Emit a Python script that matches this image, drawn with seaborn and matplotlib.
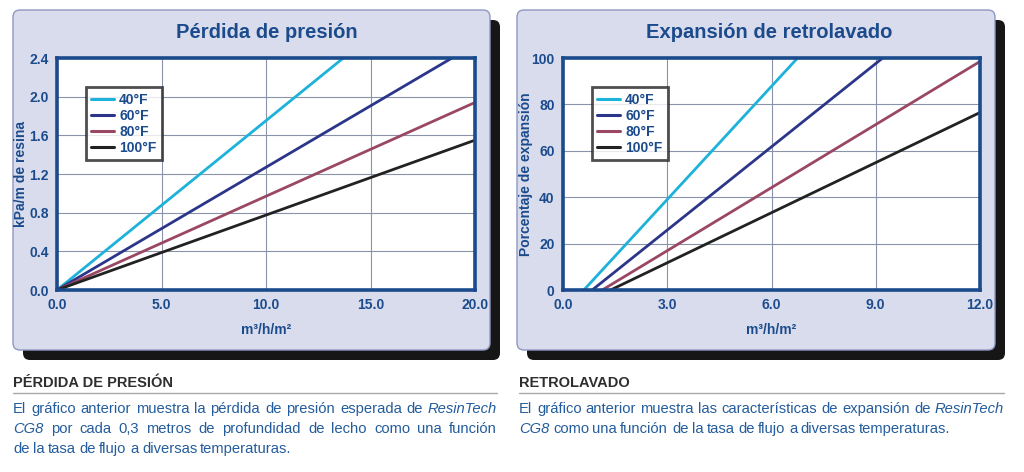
import numpy as np
import pandas as pd
import seaborn as sns
import matplotlib.pyplot as plt
from matplotlib.patches import FancyBboxPatch

# ---- data ----
temps = ['40°F', '60°F', '80°F', '100°F']
colors = ['#1cb2d9', '#2b3589', '#9a4763', '#222222']

# pressure drop (kPa/m de resina) vs flow (m3/h/m2)
loss_flow = {'40°F': [0.0, 13.7], '60°F': [0.0, 18.9], '80°F': [0.0, 20.0], '100°F': [0.0, 20.0]}
loss_val = {'40°F': [0.0, 2.4], '60°F': [0.0, 2.4], '80°F': [0.0, 1.94], '100°F': [0.0, 1.55]}

# bed expansion (%) vs flow (m3/h/m2)
exp_flow = {'40°F': [0.6, 6.75], '60°F': [0.84, 9.2], '80°F': [1.13, 12.0], '100°F': [1.37, 12.0]}
exp_val = {'40°F': [0, 100], '60°F': [0, 100], '80°F': [0, 98.5], '100°F': [0, 76.5]}

loss_xticks = [0, 5, 10, 15, 20]
loss_yticks = [0, 0.4, 0.8, 1.2, 1.6, 2.0, 2.4]
exp_xticks = [0, 3, 6, 9, 12]
exp_yticks = [0, 20, 40, 60, 80, 100]

sns.set_theme(style='white')
plt.rcParams['font.family'] = ['Liberation Sans', 'DejaVu Sans']

BLUE = '#1b4b8c'
TXT = '#235c9c'
W, H = 1024, 472
fig = plt.figure(figsize=(W / 100, H / 100), dpi=100)
fig.patch.set_facecolor('white')

# background axes in pixel coordinates
bg = fig.add_axes([0, 0, 1, 1])
bg.set_xlim(0, W)
bg.set_ylim(H, 0)
bg.axis('off')


def panel(x0, x1, y0, y1):
    sh = FancyBboxPatch((x0 + 10, y0 + 10), x1 - x0, y1 - y0,
                        boxstyle='round,pad=0,rounding_size=7',
                        fc='#161616', ec='none', zorder=1)
    bx = FancyBboxPatch((x0, y0), x1 - x0, y1 - y0,
                        boxstyle='round,pad=0,rounding_size=7',
                        fc='#d9dcec', ec='#8e98c4', lw=1.0, zorder=2)
    bg.add_patch(sh)
    bg.add_patch(bx)


def pix_axes(l, r, t, b):
    return fig.add_axes([l / W, 1 - b / H, (r - l) / W, (b - t) / H])


def chart(ax, flows, vals, xticks, yticks, xfmt, yfmt, title, ylabel, tx, ylx):
    rows = []
    for t in temps:
        for f, v in zip(flows[t], vals[t]):
            rows.append({'flow': f, 'val': v, 'temp': t})
    df = pd.DataFrame(rows)
    sns.lineplot(data=df, x='flow', y='val', hue='temp', hue_order=temps,
                 palette=colors, linewidth=2.0, ax=ax, legend=True)
    ax.set_facecolor('white')
    ax.set_xlim(xticks[0], xticks[-1])
    ax.set_ylim(yticks[0], yticks[-1])
    ax.set_xticks(xticks)
    ax.set_yticks(yticks)
    ax.set_xticklabels([xfmt.format(v) for v in xticks])
    ax.set_yticklabels([yfmt.format(v) for v in yticks])
    ax.grid(True, color='#8b93ab', linewidth=0.8)
    ax.tick_params(length=0, pad=6, labelsize=10, labelcolor=BLUE)
    for lab in ax.get_xticklabels() + ax.get_yticklabels():
        lab.set_fontweight('bold')
    for s in ax.spines.values():
        s.set_color(BLUE)
        s.set_linewidth(2.6)
    ax.set_xlabel('m³/h/m²', fontsize=10, fontweight='bold', color=BLUE, labelpad=8)
    ax.set_ylabel('')
    leg = ax.legend(loc='upper left', bbox_to_anchor=(0.069, 0.875), frameon=True,
                    fancybox=False, handlelength=1.6, handletextpad=0.4,
                    borderpad=0.4, labelspacing=0.15, borderaxespad=0,
                    fontsize=10)
    leg.get_frame().set_edgecolor('#222222')
    leg.get_frame().set_linewidth(2.0)
    for txt in leg.get_texts():
        txt.set_color(BLUE)
        txt.set_fontweight('bold')
    for ln in leg.get_lines():
        ln.set_linewidth(2.2)
    bg.text(tx, 32, title, ha='center', va='center', fontsize=14.5,
            fontweight='bold', color=BLUE, zorder=5)
    bg.text(ylx, 174, ylabel, ha='center', va='center', rotation=90,
            fontsize=10, fontweight='bold', color=BLUE, zorder=5)


panel(13, 490, 10, 350)
panel(517, 995, 10, 350)

ax1 = pix_axes(57, 475, 58, 290)
chart(ax1, loss_flow, loss_val, loss_xticks, loss_yticks, '{:.1f}', '{:.1f}',
      'Pérdida de presión', 'kPa/m de resina', 267, 21)
ax2 = pix_axes(563, 980, 58, 290)
chart(ax2, exp_flow, exp_val, exp_xticks, exp_yticks, '{:.1f}', '{:d}',
      'Expansión de retrolavado', 'Porcentaje de expansión', 769, 526)

# ---- captions below the charts ----
renderer = fig.canvas.get_renderer()


def put_line(x0, x1, y, words, justify, size=10.6):
    arts = []
    for w, it in words:
        a = bg.text(0, y, w, ha='left', va='baseline', fontsize=size, color=TXT,
                    fontstyle='italic' if it else 'normal')
        arts.append(a)
    widths = [a.get_window_extent(renderer).width for a in arts]
    if justify and len(arts) > 1:
        gap = (x1 - x0 - sum(widths)) / (len(arts) - 1)
    else:
        gap = 3.4
    x = x0
    for a, wd in zip(arts, widths):
        a.set_x(round(x))
        x += wd + gap


def words(s, italic=()):
    return [(w, w in italic) for w in s.split()]


def caption(x0, x1, head, lines):
    bg.text(x0, 383, head, ha='left', va='center', fontsize=10.5,
            fontweight='bold', color='#2e2e2e')
    bg.plot([x0, x1], [393, 393], color='#a8a8a8', lw=1)
    for i, (s, just) in enumerate(lines):
        put_line(x0, x1, 413 + i * 20, words(s, ('ResinTech', 'CG8')), just)


caption(13, 497, 'PÉRDIDA DE PRESIÓN', [
    ('El gráfico anterior muestra la pérdida de presión esperada de ResinTech', True),
    ('CG8 por cada 0,3 metros de profundidad de lecho como una función', True),
    ('de la tasa de flujo a diversas temperaturas.', False)])
caption(519, 1004, 'RETROLAVADO', [
    ('El gráfico anterior muestra las características de expansión de ResinTech', True),
    ('CG8 como una función de la tasa de flujo a diversas temperaturas.', False)])

fig.savefig('out.png', dpi=100, facecolor='white')
